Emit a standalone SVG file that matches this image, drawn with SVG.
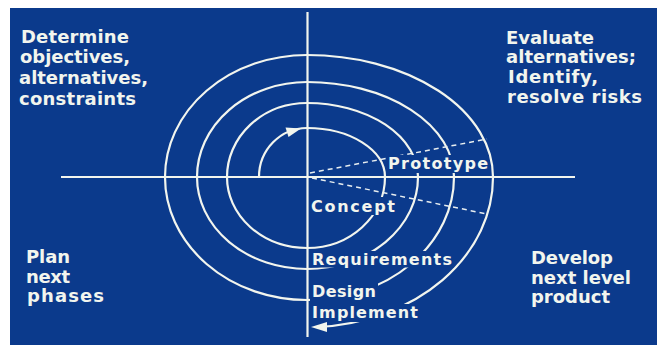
<svg xmlns="http://www.w3.org/2000/svg" width="657" height="347" viewBox="0 0 657 347">
<style>
.bg{fill:#0b3a8c}
.ln{fill:none;stroke:#f2f5ee;stroke-width:2.2}
.dash{fill:none;stroke:#e8eef0;stroke-width:1.5;stroke-dasharray:5 4}
.ko{fill:#0b3a8c}
.hd{fill:#f2f5ee}
.t{font-family:"DejaVu Sans","Liberation Sans",sans-serif;font-weight:bold;fill:#f2f5ee}
.c{font-size:18px}
.m{font-size:16px}
</style>
<rect x="0" y="0" width="657" height="347" fill="#ffffff"/>
<rect class="bg" x="10" y="8" width="647" height="337"/>
<g id="connectors">
<line class="ln" x1="61" y1="177" x2="575" y2="177"/>
<line class="ln" x1="307.5" y1="12" x2="307.5" y2="337"/>
<path class="ln" d="M259 177 A48 49 0 0 1 307 128 A78 49 0 0 1 385 177 A78 71 0 0 1 307 248 A80 71 0 0 1 227 177 A80 74 0 0 1 307 103 A111 74 0 0 1 418 177 A111 92 0 0 1 307 269 A110 92 0 0 1 197 177 A110 95 0 0 1 307 82 A147 95 0 0 1 454 177 A147 123 0 0 1 307 300 A142 123 0 0 1 165 177 A142 122 0 0 1 307 55 A186 122 0 0 1 493 177 A186 150 0 0 1 318 327"/>
<line class="dash" x1="310" y1="173" x2="487" y2="139"/>
<line class="dash" x1="312" y1="178" x2="487" y2="214"/>
<polygon class="hd" points="301,128.5 285.5,127.5 288.5,137"/>
<polygon class="hd" points="311,327 327,322 327,332"/>
</g>
<g id="prototype">
<rect class="ko" x="386" y="155" width="103" height="18"/>
<text class="t m" x="388" y="169" textLength="100" lengthAdjust="spacing">Prototype</text>
</g>
<g id="concept">
<rect class="ko" x="310" y="197" width="88" height="18"/>
<text class="t m" x="311" y="212" textLength="84" lengthAdjust="spacing">Concept</text>
</g>
<g id="requirements">
<rect class="ko" x="310" y="251" width="144" height="16.5"/>
<text class="t m" x="312" y="265" textLength="140" lengthAdjust="spacing">Requirements</text>
</g>
<g id="design">
<rect class="ko" x="310" y="283" width="68" height="18"/>
<text class="t m" x="312" y="297" textLength="64" lengthAdjust="spacing">Design</text>
</g>
<g id="implement">
<rect class="ko" x="310" y="304" width="110" height="18"/>
<text class="t m" x="312" y="318" textLength="106" lengthAdjust="spacing">Implement</text>
</g>
<g id="determine">
<text class="t c" x="21" y="43" textLength="108" lengthAdjust="spacing">Determine</text>
<text class="t c" x="20" y="63" textLength="110" lengthAdjust="spacing">objectives,</text>
<text class="t c" x="19" y="84" textLength="129" lengthAdjust="spacing">alternatives,</text>
<text class="t c" x="19" y="105" textLength="117" lengthAdjust="spacing">constraints</text>
</g>
<g id="evaluate">
<text class="t c" x="506" y="44" textLength="88" lengthAdjust="spacing">Evaluate</text>
<text class="t c" x="506" y="63" textLength="130" lengthAdjust="spacing">alternatives;</text>
<text class="t c" x="508" y="83" textLength="90" lengthAdjust="spacing">Identify,</text>
<text class="t c" x="507" y="103" textLength="135" lengthAdjust="spacing">resolve risks</text>
</g>
<g id="plan">
<text class="t c" x="26" y="263" textLength="44" lengthAdjust="spacing">Plan</text>
<text class="t c" x="26" y="283" textLength="44" lengthAdjust="spacing">next</text>
<text class="t c" x="27" y="302" textLength="77" lengthAdjust="spacing">phases</text>
</g>
<g id="develop">
<text class="t c" x="531" y="264" textLength="82" lengthAdjust="spacing">Develop</text>
<text class="t c" x="531" y="284" textLength="100" lengthAdjust="spacing">next level</text>
<text class="t c" x="531" y="303" textLength="79" lengthAdjust="spacing">product</text>
</g>
</svg>
